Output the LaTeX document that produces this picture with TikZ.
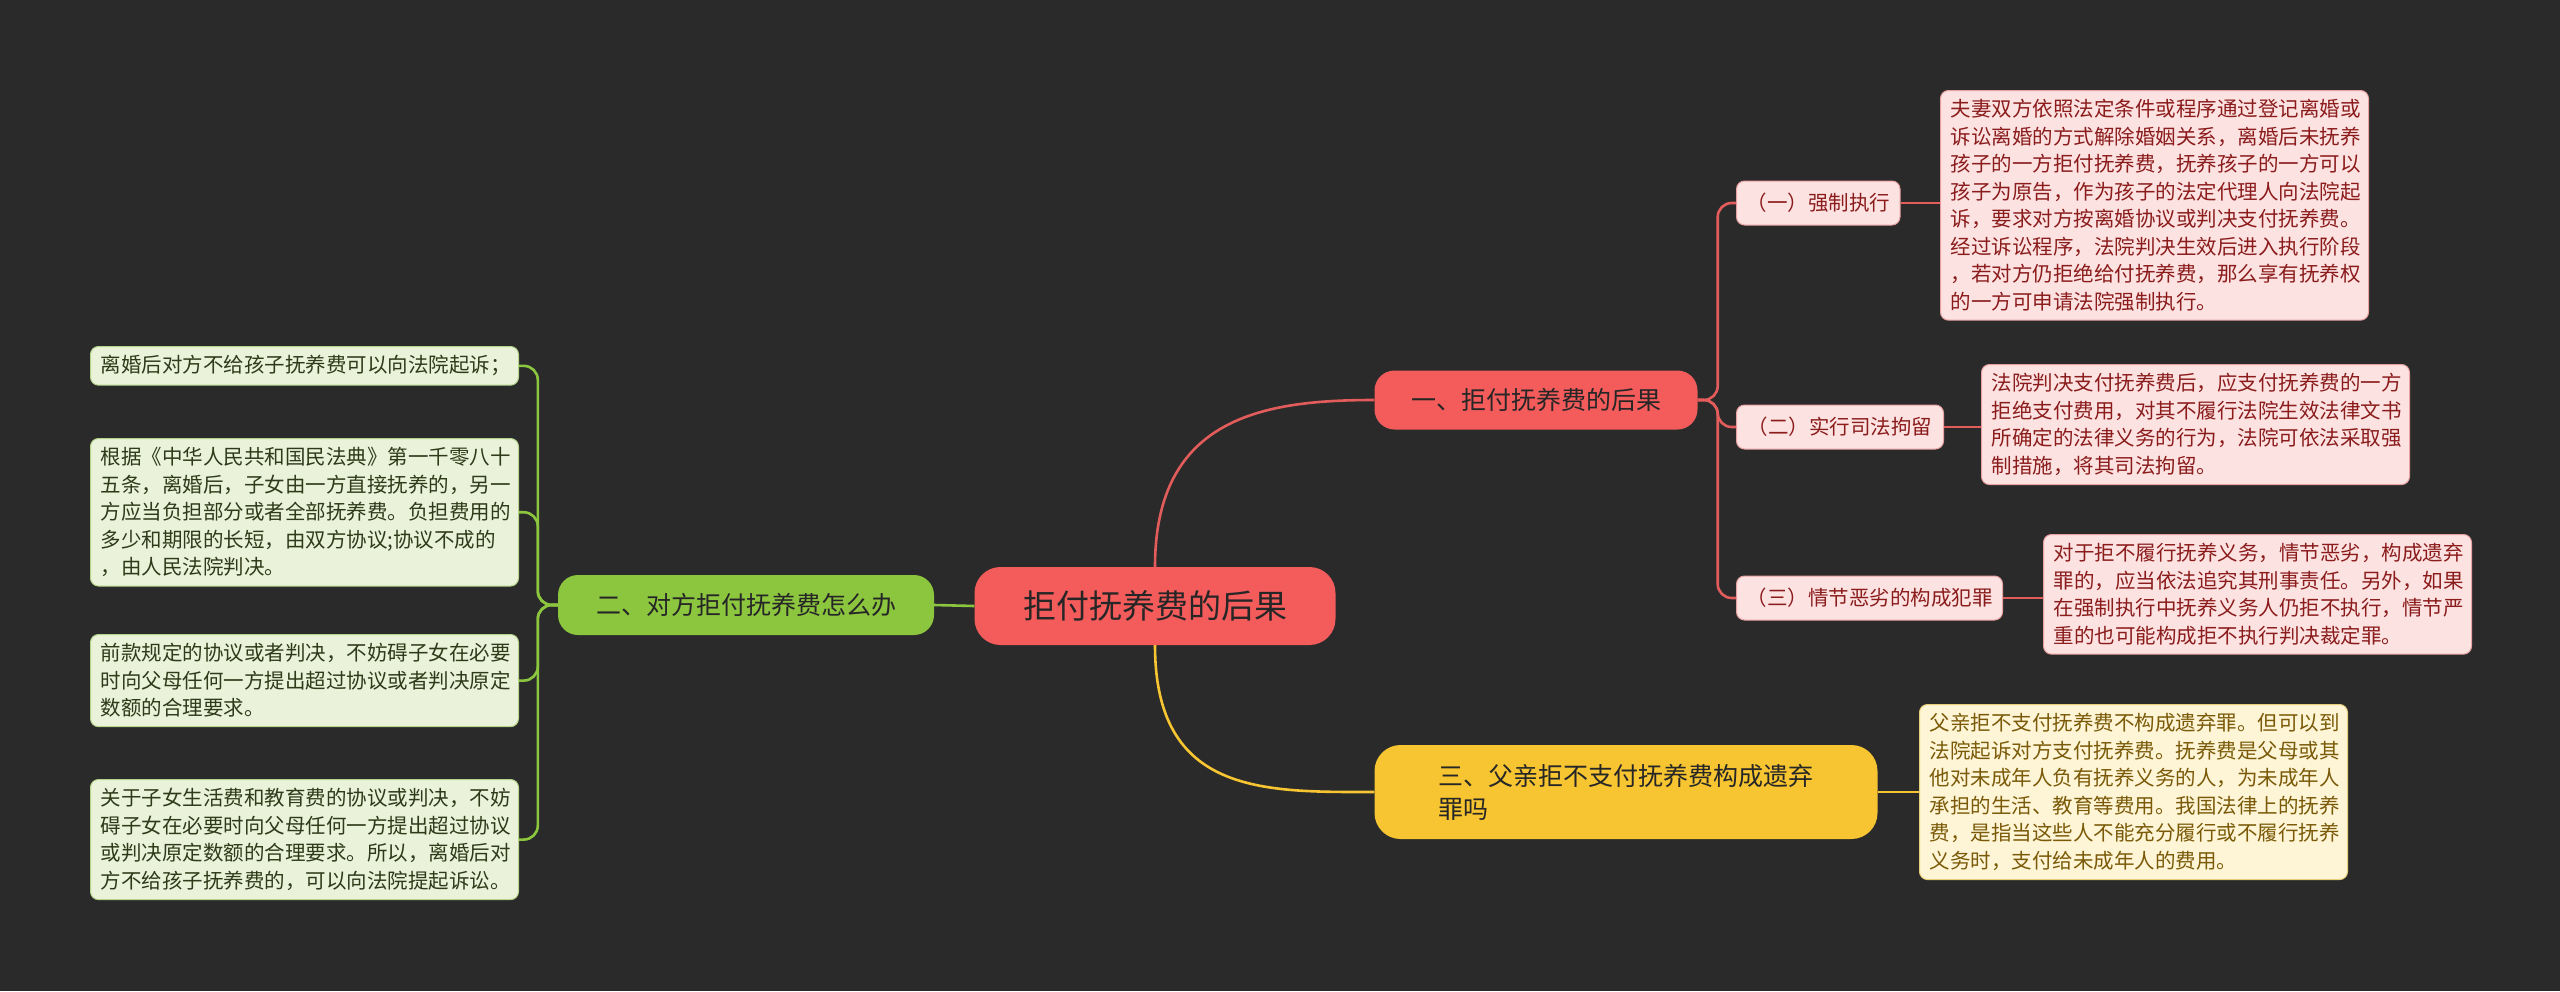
\documentclass[tikz,border=0pt]{standalone}
\usepackage{fontspec}
\setmainfont{Noto Sans CJK SC}
\begin{document}
\begin{tikzpicture}[x=1pt,y=-1pt,
  box/.style={rounded corners=8pt,anchor=north west,align=left,inner xsep=10pt,inner ysep=9pt,font=\fontsize{20.5}{27.5}\selectfont},
  pinkbox/.style={box,fill=pinkf,draw=pinkd,line width=1pt,text=pinkt},
  greenbox/.style={box,fill=greenf,draw=greend,line width=1pt,text=greent},
  yelbox/.style={box,fill=yelf,draw=yeld,line width=1pt,text=yelt},
  rl/.style={draw=redl,line width=2.6pt},
  gl/.style={draw=greenl,line width=2.6pt},
  yl/.style={draw=yell,line width=2.6pt}]
\definecolor{bg}{HTML}{2A2A2A}
\definecolor{pinkf}{HTML}{FDE2E2}\definecolor{pinkd}{HTML}{E8A0A0}\definecolor{pinkt}{HTML}{8B1C1C}
\definecolor{greenf}{HTML}{EAF3D9}\definecolor{greend}{HTML}{B5D38A}\definecolor{greent}{HTML}{2F3A1A}
\definecolor{yelf}{HTML}{FEF5D6}\definecolor{yeld}{HTML}{E8CF7A}\definecolor{yelt}{HTML}{7A5A08}
\definecolor{redl}{HTML}{E35C5C}\definecolor{greenl}{HTML}{8CC63F}\definecolor{yell}{HTML}{F6C531}
\definecolor{redn}{HTML}{F45B5B}
\fill[bg] (0,0) rectangle (2560,991);
\useasboundingbox (0,0) rectangle (2560,991);

% main
\node[fill=redn,rounded corners=26pt,minimum width=361pt,minimum height=78pt,text=black!85,font=\fontsize{33}{38}\selectfont] (c) at (1155,606) {拒付抚养费的后果};
\node[fill=redn,rounded corners=20pt,minimum width=323pt,minimum height=59pt,text=black!85,font=\fontsize{25}{30}\selectfont] (b1) at (1536,400) {一、拒付抚养费的后果};
\node[fill=greenl,rounded corners=20pt,minimum width=376pt,minimum height=60pt,text=black!85,font=\fontsize{25}{30}\selectfont] (b2) at (746,605) {二、对方拒付抚养费怎么办};
\node[fill=yell,rounded corners=26pt,minimum width=503pt,minimum height=94pt,text=black!85,align=left,font=\fontsize{25}{33}\selectfont] (b3) at (1626,792) {三、父亲拒不支付抚养费构成遗弃\\罪吗\hspace*{11em}};

% subs
\node[pinkbox,minimum width=163pt,minimum height=44pt,anchor=west] (s1) at (1736,203) {（一）强制执行};
\node[pinkbox,minimum width=207pt,minimum height=44pt,anchor=west] (s2) at (1736,427) {（二）实行司法拘留};
\node[pinkbox,minimum width=266pt,minimum height=44pt,anchor=west] (s3) at (1736,598) {（三）情节恶劣的构成犯罪};

% leaves right
\node[pinkbox,text width=408pt] (l1) at (1940,90) {夫妻双方依照法定条件或程序通过登记离婚或\\诉讼离婚的方式解除婚姻关系，离婚后未抚养\\孩子的一方拒付抚养费，抚养孩子的一方可以\\孩子为原告，作为孩子的法定代理人向法院起\\诉，要求对方按离婚协议或判决支付抚养费。\\经过诉讼程序，法院判决生效后进入执行阶段\\，若对方仍拒绝给付抚养费，那么享有抚养权\\的一方可申请法院强制执行。};
\node[pinkbox,text width=408pt] (l2) at (1981,364) {法院判决支付抚养费后，应支付抚养费的一方\\拒绝支付费用，对其不履行法院生效法律文书\\所确定的法律义务的行为，法院可依法采取强\\制措施，将其司法拘留。};
\node[pinkbox,text width=408pt] (l3) at (2043,534) {对于拒不履行抚养义务，情节恶劣，构成遗弃\\罪的，应当依法追究其刑事责任。另外，如果\\在强制执行中抚养义务人仍拒不执行，情节严\\重的也可能构成拒不执行判决裁定罪。};
\node[yelbox,text width=408pt] (y1) at (1919,704) {父亲拒不支付抚养费不构成遗弃罪。但可以到\\法院起诉对方支付抚养费。抚养费是父母或其\\他对未成年人负有抚养义务的人，为未成年人\\承担的生活、教育等费用。我国法律上的抚养\\费，是指当这些人不能充分履行或不履行抚养\\义务时，支付给未成年人的费用。};

% leaves left
\node[greenbox,text width=408pt] (g1) at (90,346) {离婚后对方不给孩子抚养费可以向法院起诉；};
\node[greenbox,text width=408pt] (g2) at (90,438) {根据《中华人民共和国民法典》第一千零八十\\五条，离婚后，子女由一方直接抚养的，另一\\方应当负担部分或者全部抚养费。负担费用的\\多少和期限的长短，由双方协议;协议不成的\\，由人民法院判决。};
\node[greenbox,text width=408pt] (g3) at (90,634) {前款规定的协议或者判决，不妨碍子女在必要\\时向父母任何一方提出超过协议或者判决原定\\数额的合理要求。};
\node[greenbox,text width=408pt] (g4) at (90,779) {关于子女生活费和教育费的协议或判决，不妨\\碍子女在必要时向父母任何一方提出超过协议\\或判决原定数额的合理要求。所以，离婚后对\\方不给孩子抚养费的，可以向法院提起诉讼。};

% connectors
\draw[rl] (c.north) .. controls +(0,-150) and +(-110,0) .. (b1.west);
\draw[yl] (c.south) .. controls +(0,150) and +(-110,0) .. (b3.west);
\draw[gl] (c.west) -- (b2.east);
\foreach \s in {s1,s2,s3} \draw[rl,rounded corners=14pt] (b1.east) -- ++(20,0) |- (\s.west);
\draw[rl] (s1.east) -- (s1.east -| l1.west);
\draw[rl] (s2.east) -- (s2.east -| l2.west);
\draw[rl] (s3.east) -- (s3.east -| l3.west);
\draw[yl] (b3.east) -- (b3.east -| y1.west);
\foreach \g in {g1,g2,g3,g4} \draw[gl,rounded corners=14pt] (b2.west) -- ++(-20,0) |- (\g.east);
\end{tikzpicture}
\end{document}
